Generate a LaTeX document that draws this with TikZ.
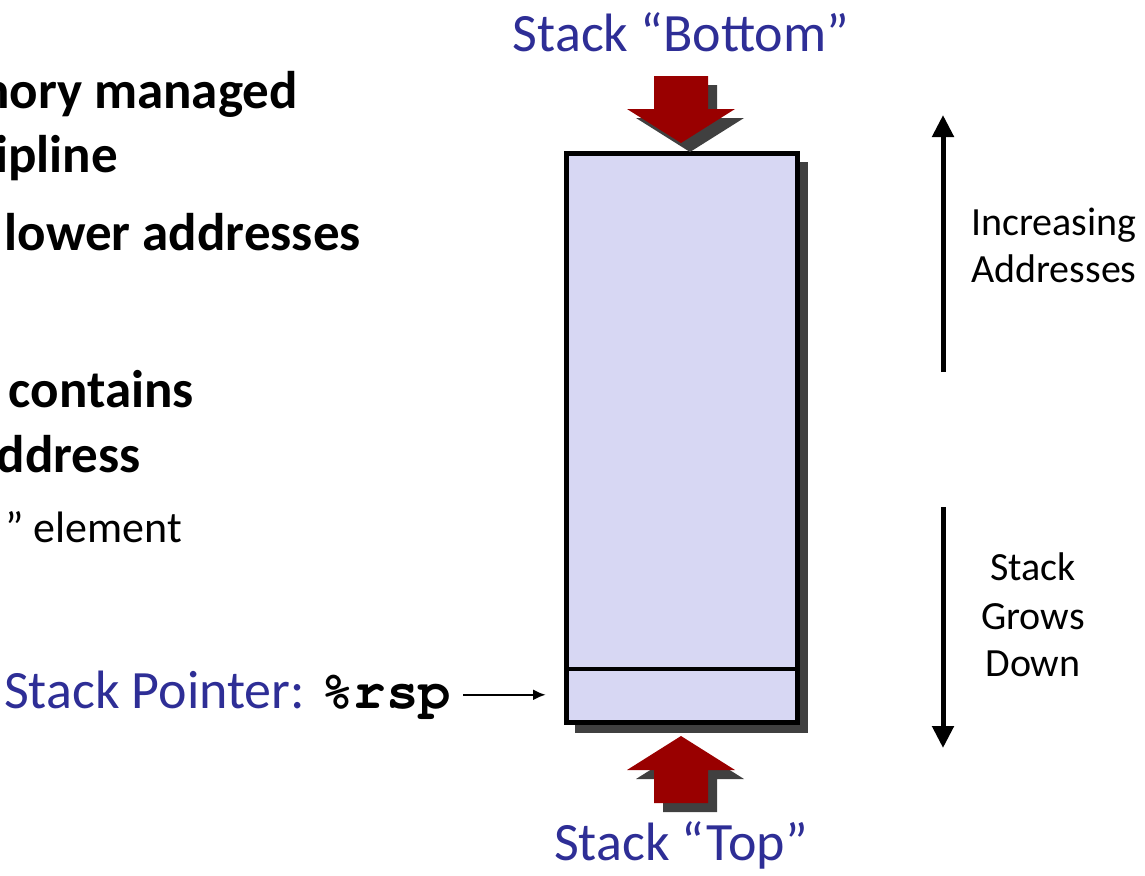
\documentclass[tikz,border=0pt]{standalone}
\usepackage{fontspec}
\setmainfont{Carlito}
\newfontfamily\codefont{TeX Gyre Cursor}
\usetikzlibrary{arrows.meta}
\definecolor{stackblue}{RGB}{46,46,150}
\definecolor{stackfill}{RGB}{215,215,243}
\definecolor{arrowred}{RGB}{153,0,0}
\definecolor{shadowgray}{RGB}{64,64,64}
\def\blockarrow[#1](#2)(#3){\fill[#1, shift={(#2)}, yscale=#3] (0,0) -- (54,34) -- (27,34) -- (27,67) -- (-27,67) -- (-27,34) -- (-54,34) -- cycle;}

\tikzset{
  bluelabel/.style={text=stackblue, font=\fontsize{54}{64}\selectfont, inner sep=0pt},
  boldline/.style={font=\bfseries\fontsize{53}{64}\selectfont, inner sep=0pt, anchor=base east},
  sidelabel/.style={font=\fontsize{40}{48}\selectfont, inner sep=0pt},
  stackbox/.style={draw, line width=5pt, fill=stackfill, outer sep=0pt,
    minimum width=231pt, minimum height=569pt},
  growline/.style={line width=5pt, -{Triangle[width=21pt,length=22pt]}},
  ptrline/.style={line width=2.5pt, -{Latex[width=11pt,length=13pt]}},
}

\begin{document}
\begin{tikzpicture}[x=1pt,y=-1pt]
  %%%%% START %%%%%
  \useasboundingbox (0,0) rectangle (1145,875);
  \clip (0,0) rectangle (1145,875);

  % cut-off slide text
  \node[boldline] (t1) at (298,108) {nory managed};
  \node[boldline] (t2) at (118,172) {ipline};
  \node[boldline] (t3) at (361,250) {lower addresses};
  \node[boldline] (t4) at (194,407) {contains};
  \node[boldline] (t5) at (141,472) {ddress};
  \node[inner sep=0pt, anchor=base east, font=\fontsize{44}{53}\selectfont] (t6) at (182,542) {” element};

  % stack
  \fill[shadowgray] (575,162) rectangle (808,733);
  \node[stackbox] (stack) at (681.5,437.5) {};
  \coordinate (div) at (0,669);
  \draw[line width=4pt] (stack.west |- div) -- (stack.east |- div);

  % bottom and top arrows
  \blockarrow[shadowgray](690,152)(-1)
  \blockarrow[arrowred](681,143)(-1)
  \blockarrow[shadowgray](690,745)(1)
  \blockarrow[arrowred](681,736)(1)
  \node[bluelabel, anchor=base] (bottomlbl) at (681,52) {Stack “Bottom”};
  \node[bluelabel, anchor=base] (toplbl) at (681,860) {Stack “Top”};

  % stack pointer
  \node[bluelabel, anchor=base west] (sp) at (4,708) {Stack Pointer: {\codefont\bfseries\color{black}\%rsp}};
  \coordinate (ptr) at ([xshift=-20pt]stack.west |- sp.east);
  \draw[ptrline, shorten <=12pt] (sp.east) -- (ptr);

  % address direction
  \coordinate (incbot) at (943,372);
  \coordinate (inctop) at (943,115);
  \draw[growline] (incbot) -- (inctop);
  \node[sidelabel, anchor=base west] (inc1) at (971,235) {Increasing};
  \node[sidelabel, anchor=base west] (inc2) at (971,282) {Addresses};

  \coordinate (growtop) at (943,507);
  \coordinate (growbot) at (943,748);
  \draw[growline] (growtop) -- (growbot);
  \node[sidelabel, anchor=base] (grow1) at (1033,580) {Stack};
  \node[sidelabel, anchor=base] (grow2) at (1033,629) {Grows};
  \node[sidelabel, anchor=base] (grow3) at (1033,676) {Down};

  %%%%% END %%%%%
\end{tikzpicture}
\end{document}
